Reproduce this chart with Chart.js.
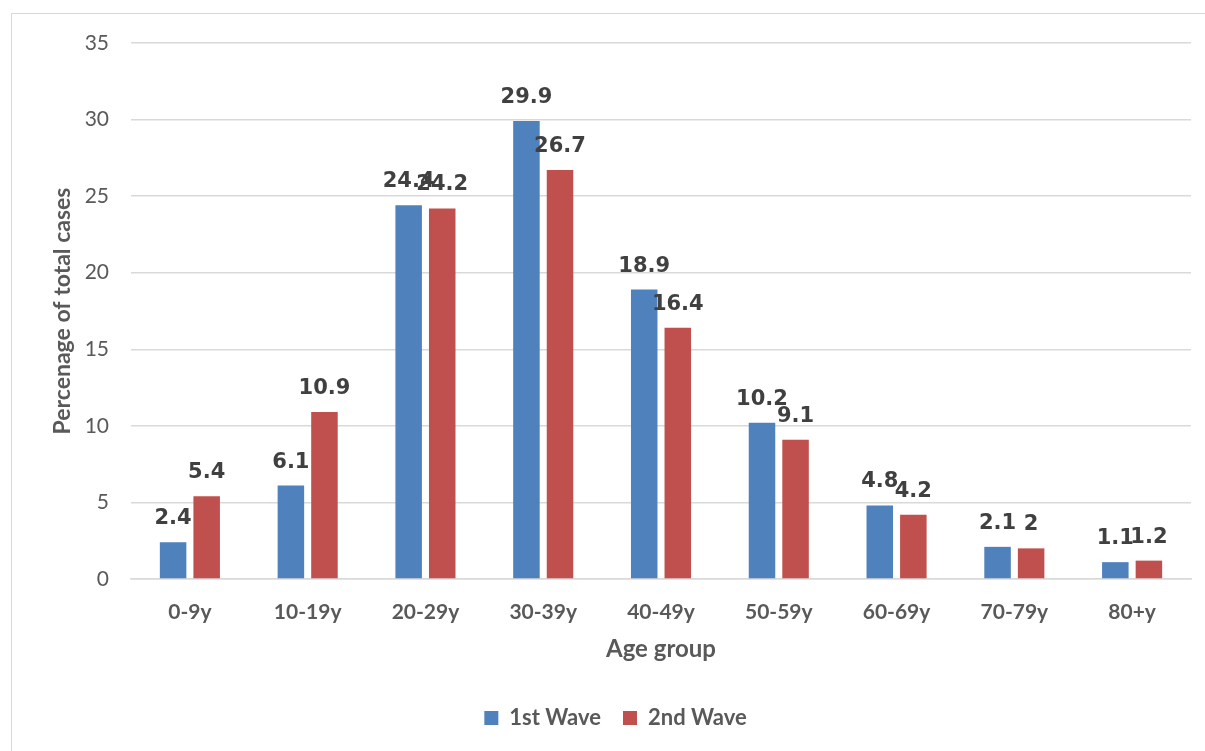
<html>
<head>
  <script src="https://cdn.jsdelivr.net/npm/chart.js@4.4.1/dist/chart.umd.min.js"></script>
  <style>
    body { margin:0; background:#fff; overflow:hidden; }
    #frame {
      position:absolute; left:11px; top:13px; width:1220px; height:760px;
      border:1.5px solid #d9d9d9; box-sizing:border-box;
    }
    #chart { position:absolute; left:0; top:0; }
  </style>
</head>
<body>
  <div id="frame"></div>
  <canvas id="chart" width="1205" height="751"></canvas>

  <script>
    // values
    var ageGroups = ['0-9y', '10-19y', '20-29y', '30-39y', '40-49y', '50-59y', '60-69y', '70-79y', '80+y'];
    var firstWave = [2.4, 6.1, 24.4, 29.9, 18.9, 10.2, 4.8, 2.1, 1.1];
    var secondWave = [5.4, 10.9, 24.2, 26.7, 16.4, 9.1, 4.2, 2, 1.2];
    var yTicks = [0, 5, 10, 15, 20, 25, 30, 35];

    var font = 'Lato, "Open Sans", sans-serif';
    var grey = '#595959';

    // draws the value over each bar
    var valueLabels = {
      id: 'valueLabels',
      afterDatasetsDraw: function(chart) {
        var ctx = chart.ctx;
        ctx.save();
        ctx.font = 'bold 21px "DejaVu Sans", sans-serif';
        ctx.fillStyle = '#404040';
        ctx.textAlign = 'center';
        ctx.textBaseline = 'alphabetic';
        chart.data.datasets.forEach(function(ds, i) {
          chart.getDatasetMeta(i).data.forEach(function(bar, j) {
            ctx.fillText(String(ds.data[j]), bar.x, bar.y - 18);
          });
        });
        ctx.restore();
      }
    };

    new Chart(document.getElementById('chart'), {
      type: 'bar',
      data: {
        labels: ageGroups,
        datasets: [
          { label: '1st Wave', data: firstWave, backgroundColor: '#4F81BD' },
          { label: '2nd Wave', data: secondWave, backgroundColor: '#C0504D' }
        ]
      },
      options: {
        responsive: false,
        animation: false,
        devicePixelRatio: 1,
        categoryPercentage: 0.57,
        barPercentage: 0.79,
        layout: { padding: { left: 40, right: 14, top: 43, bottom: 12 } },
        plugins: {
          tooltip: { enabled: false },
          legend: {
            position: 'bottom',
            labels: {
              boxWidth: 14, boxHeight: 14,
              color: grey,
              font: { family: font, size: 22, weight: 'bold' },
              padding: 22
            }
          }
        },
        scales: {
          x: {
            afterFit: function(scale) { scale.height = 106; },
            grid: { display: false, drawTicks: false },
            border: { display: true, color: '#d9d9d9', width: 1.5 },
            ticks: { color: grey, padding: 21, font: { family: font, size: 21, weight: 'bold' } },
            title: {
              display: true, text: 'Age group', color: grey,
              font: { family: font, size: 24, weight: 'bold' },
              padding: { top: 4, bottom: 21 }
            }
          },
          y: {
            min: 0, max: 35,
            afterFit: function(scale) { scale.width = 91; },
            afterBuildTicks: function(scale) {
              scale.ticks = yTicks.map(function(v) { return { value: v }; });
            },
            grid: { color: '#d9d9d9', lineWidth: 1.5, drawTicks: false },
            border: { display: false },
            ticks: { color: grey, padding: 22, font: { family: font, size: 21 } },
            title: {
              display: true, text: 'Percenage of total cases', color: grey,
              font: { family: font, size: 23, weight: 'bold' },
              padding: { top: 9, bottom: 0 }
            }
          }
        }
      },
      plugins: [valueLabels]
    });
  </script>
</body>
</html>
